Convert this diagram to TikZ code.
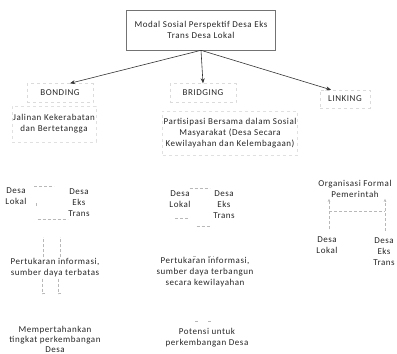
\documentclass[tikz,border=0pt]{standalone}
\usepackage{fontspec}
\setmainfont{Carlito}[LetterSpace=6]
\usetikzlibrary{arrows.meta}

\begin{document}
\begin{tikzpicture}[x=1pt, y=-1pt,
    txt/.style={font=\fontsize{9}{11}\selectfont, text=black!85, align=center, inner sep=1pt},
    head/.style={txt, draw=black!14, dashed, minimum height=19pt},
    faint/.style={draw=black!28, densely dashed, line width=0.4pt},
    link/.style={draw=black!80, line width=0.6pt, -{Stealth[length=5pt,width=4pt]}}]
    \useasboundingbox (0,0) rectangle (397,354);
    % top
    \node[txt, draw=black!55, line width=0.6pt, minimum width=149pt, minimum height=40pt] (modal) at (201,30) {Modal Sosial Perspektif Desa Eks\\Trans Desa Lokal};
    \node[head, minimum width=66pt] (bonding) at (60,93) {BONDING};
    \node[head, minimum width=66pt] (bridging) at (203,93) {BRIDGING};
    \node[head, minimum width=50pt, minimum height=18pt] (linking) at (345,99) {LINKING};
    \draw[link] (modal.south) -- ([xshift=10pt]bonding.north);
    \draw[link] (modal.south) -- (bridging.north);
    \draw[link] (modal.south) -- ([xshift=-14pt]linking.north);
    % bonding
    \node[txt, draw=black!12, dashed, minimum width=84pt, minimum height=36pt] (jalinan) at (54,124) {Jalinan Kekerabatan\\dan Bertetangga};
    \node[txt] (lokalA) at (16,196) {Desa\\Lokal};
    \node[txt] (transA) at (79,203) {Desa\\Eks\\Trans};
    \node[txt] (tukarA) at (55,268) {Pertukaran informasi,\\sumber daya terbatas};
    \node[txt, font=\fontsize{9}{10}\selectfont] (tahanA) at (55,339) {Mempertahankan\\tingkat perkembangan\\Desa};
    \draw[faint] ([xshift=18pt]lokalA.north) -- ++(20,0);
    \draw[faint] ([xshift=20pt]lokalA.south) -- ++(0,-4) (lokalA.south east) ++(10,14) -- ++(30,0);
    \draw[faint] ([xshift=-12pt]tukarA.north) -- ++(0,-20) ([xshift=5pt]tukarA.north) -- ++(0,-20);
    \draw[faint] ([xshift=-13pt]tukarA.south) -- ++(0,15) -- ++(4,0) ([xshift=3pt]tukarA.south) -- ++(0,15) -- ++(4,0);
    % bridging
    \node[txt, draw=black!12, dashed, minimum width=130pt, minimum height=44pt] (partisipasi) at (230,133) {Partisipasi Bersama dalam Sosial\\Masyarakat (Desa Secara\\Kewilayahan dan Kelembagaan)};
    \node[txt] (lokalB) at (180,199) {Desa\\Lokal};
    \node[txt] (transB) at (224,205) {Desa\\Eks\\Trans};
    \node[txt] (tukarB) at (205,272) {Pertukaran informasi,\\sumber daya terbangun\\secara kewilayahan};
    \node[txt] (potensiB) at (207,338) {Potensi untuk\\perkembangan Desa};
    \draw[faint] (lokalB.north east) ++(-2,-1) -- ++(20,0);
    \draw[faint] (lokalB.south) ++(-5,10) -- ++(14,0) (lokalB.south east) ++(5,18) -- ++(14,0);
    \draw[faint] ([xshift=-12pt]tukarB.north) -- ++(3,0) ([xshift=3pt]tukarB.north) -- ++(6,0);
    \draw[faint] ([xshift=-12pt]potensiB.north) ++(0,-6) -- ++(3,0) ([xshift=1pt]potensiB.north) ++(0,-6) -- ++(4,0);
    % linking
    \node[txt] (orgC) at (355,189) {Organisasi Formal\\Pemerintah};
    \node[txt] (lokalC) at (327,245) {Desa\\Lokal};
    \node[txt] (transC) at (384,252) {Desa\\Eks\\Trans};
    \draw[faint, -{Stealth[length=3pt,width=2.5pt]}] ([xshift=2pt]lokalC.north) ++(0,-6) -- ([xshift=-26pt]orgC.south);
    \draw[faint, -{Stealth[length=3pt,width=2.5pt]}] ([xshift=1pt]transC.north) ++(0,-6) -- ([xshift=30pt]orgC.south);
    \draw[faint] ([xshift=-26pt]orgC.south) ++(0,12) -- ++(56,0);
\end{tikzpicture}
\end{document}
